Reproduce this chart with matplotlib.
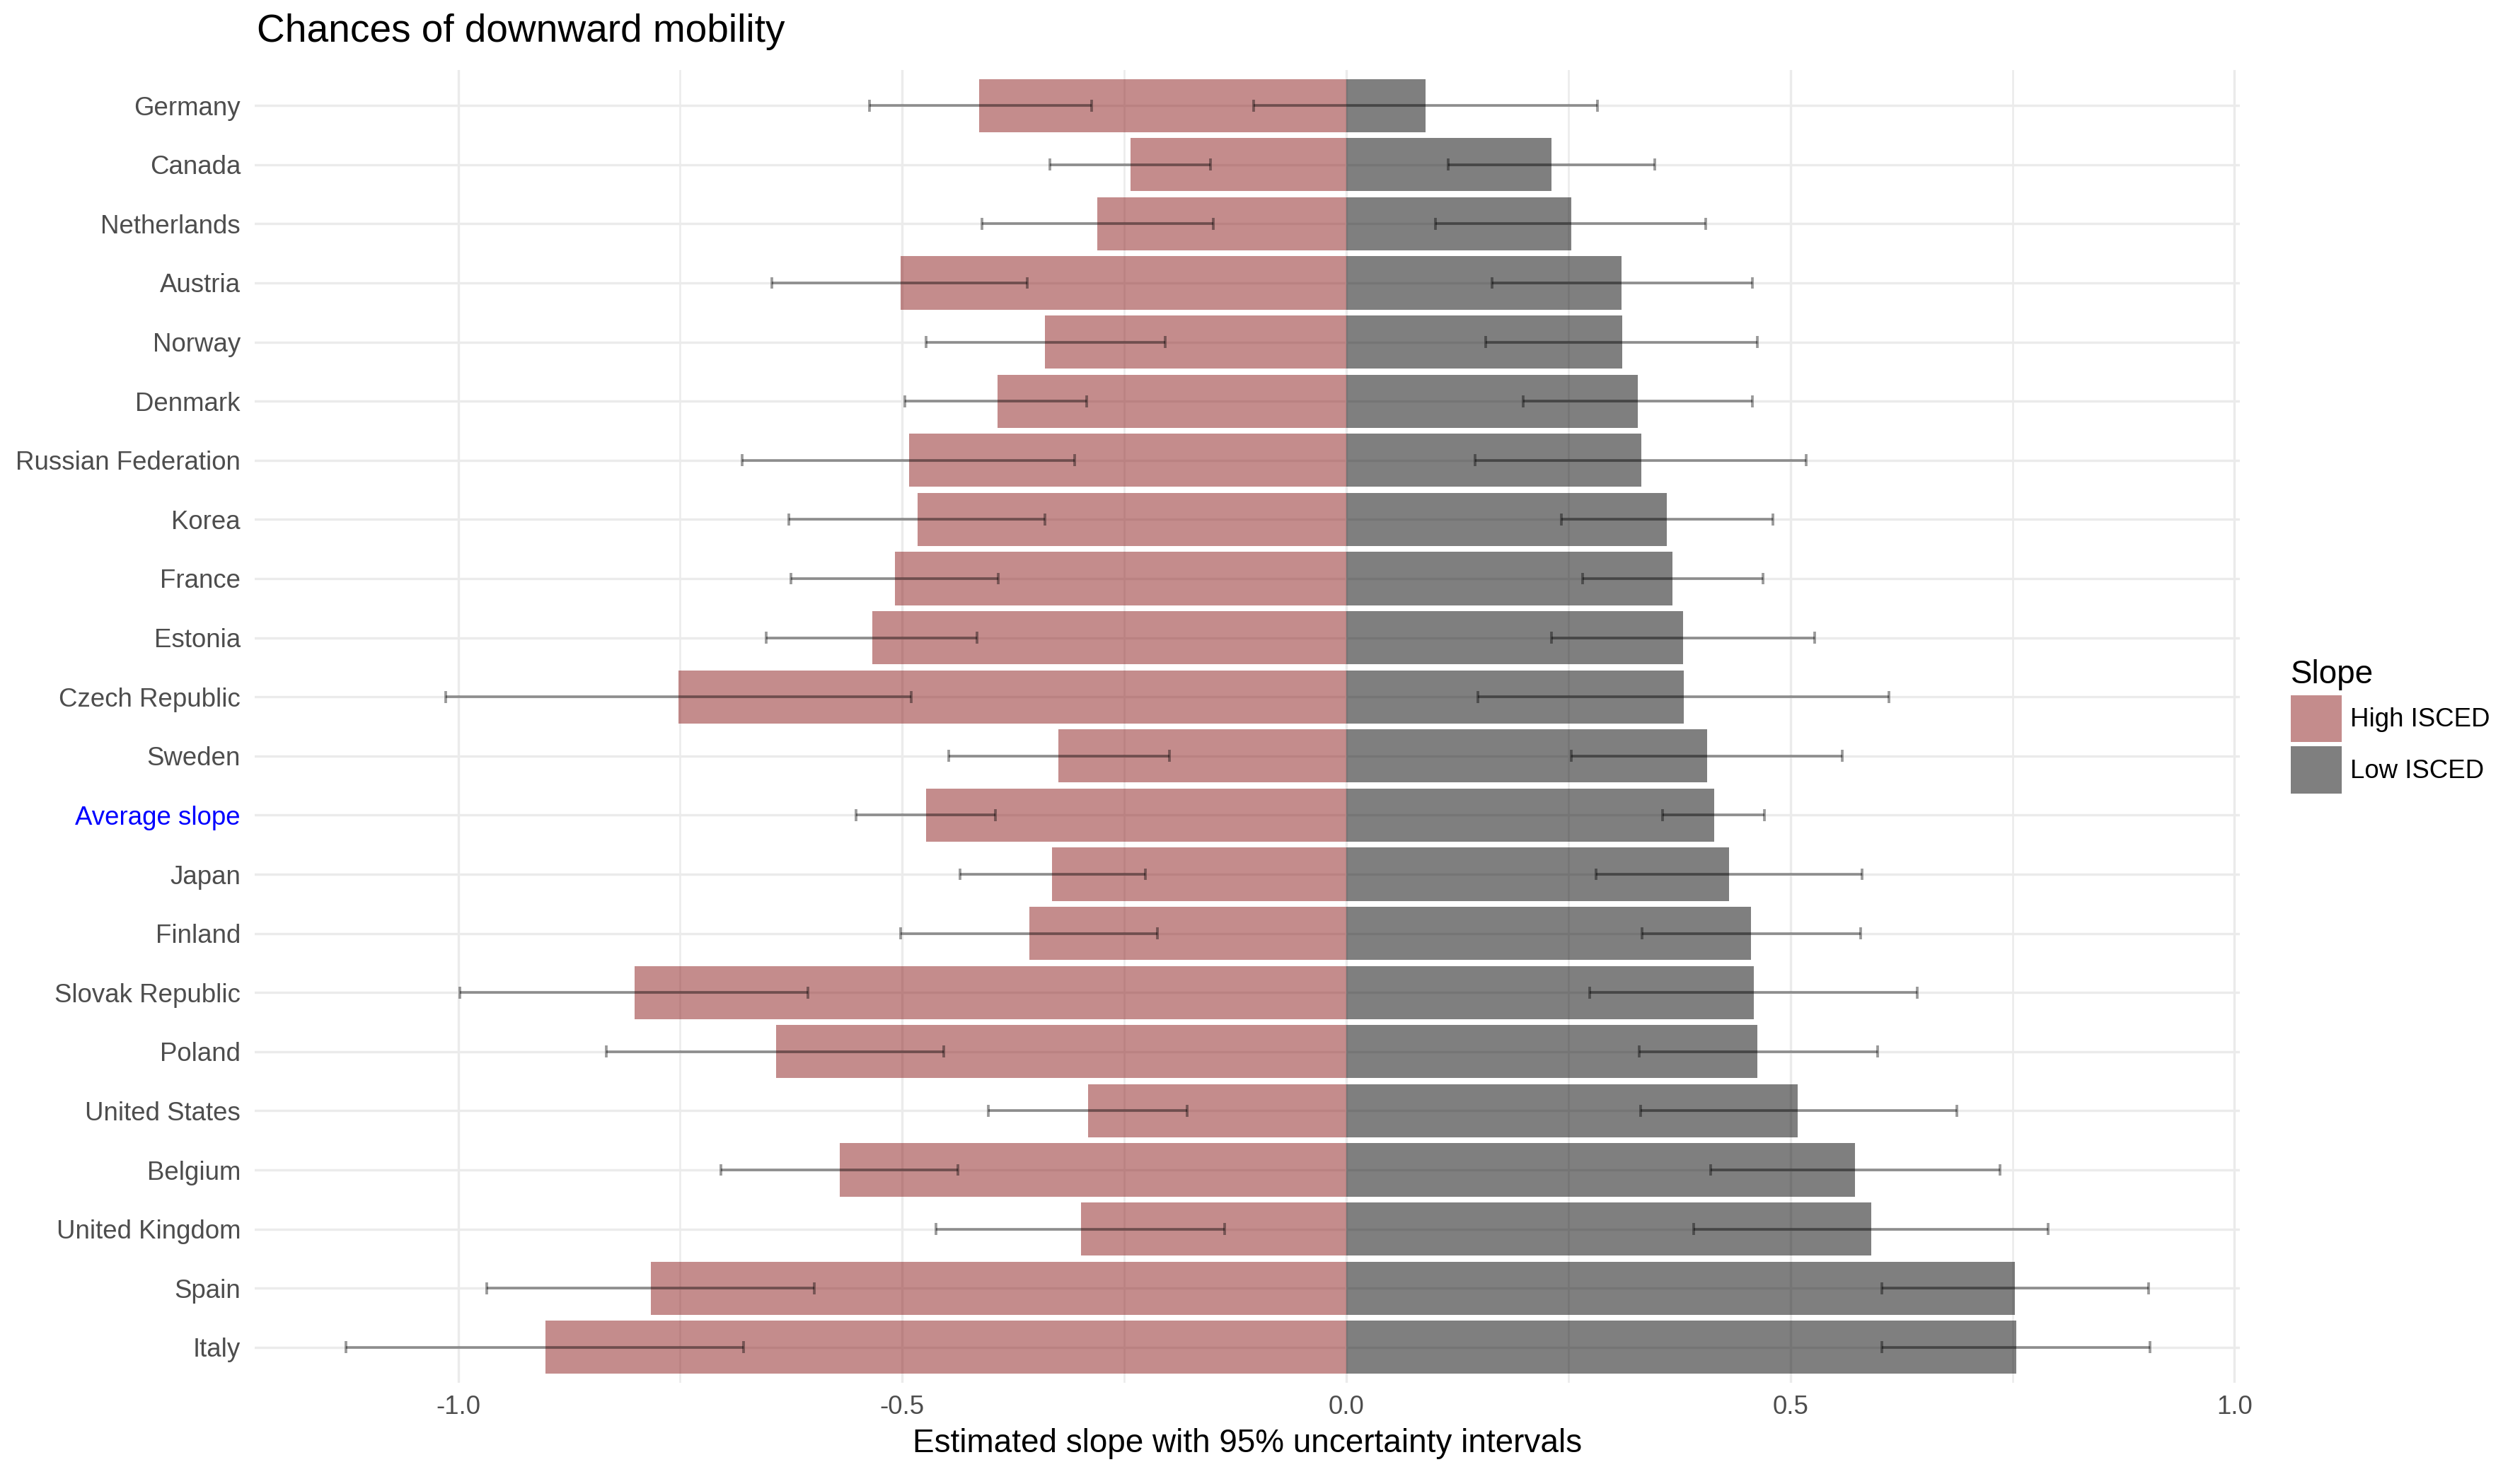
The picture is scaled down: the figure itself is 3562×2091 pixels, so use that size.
import numpy as np
import matplotlib
matplotlib.use("Agg")
import matplotlib.pyplot as plt
from matplotlib.patches import Patch

plt.rcParams['font.family'] = ['Liberation Sans', 'DejaVu Sans']

countries = ["Germany", "Canada", "Netherlands", "Austria", "Norway", "Denmark",
             "Russian Federation", "Korea", "France", "Estonia", "Czech Republic",
             "Sweden", "Average slope", "Japan", "Finland", "Slovak Republic",
             "Poland", "United States", "Belgium", "United Kingdom", "Spain", "Italy"]

# High ISCED slope (negative) and its interval
high = [-0.413, -0.243, -0.280, -0.502, -0.339, -0.393, -0.492, -0.483, -0.508, -0.534,
        -0.752, -0.324, -0.473, -0.331, -0.357, -0.801, -0.642, -0.291, -0.570, -0.299,
        -0.783, -0.902]
high_lo = [-0.537, -0.334, -0.410, -0.647, -0.473, -0.497, -0.680, -0.628, -0.625, -0.653,
           -1.014, -0.448, -0.552, -0.435, -0.502, -0.998, -0.833, -0.403, -0.704, -0.462,
           -0.968, -1.126]
high_hi = [-0.287, -0.153, -0.150, -0.359, -0.204, -0.292, -0.306, -0.339, -0.392, -0.416,
           -0.490, -0.199, -0.395, -0.226, -0.213, -0.606, -0.453, -0.179, -0.437, -0.137,
           -0.599, -0.679]

# Low ISCED slope (positive) and its interval
low = [0.089, 0.231, 0.253, 0.310, 0.311, 0.328, 0.332, 0.361, 0.367, 0.379,
       0.380, 0.406, 0.414, 0.431, 0.456, 0.459, 0.463, 0.508, 0.573, 0.591,
       0.753, 0.754]
low_lo = [-0.104, 0.115, 0.100, 0.164, 0.157, 0.199, 0.145, 0.242, 0.266, 0.231,
          0.148, 0.253, 0.356, 0.281, 0.333, 0.274, 0.330, 0.331, 0.410, 0.391,
          0.603, 0.603]
low_hi = [0.283, 0.347, 0.405, 0.457, 0.463, 0.457, 0.518, 0.480, 0.469, 0.527,
          0.611, 0.558, 0.471, 0.581, 0.579, 0.643, 0.598, 0.687, 0.736, 0.790,
          0.903, 0.905]

ticks = [-1.0, -0.5, 0.0, 0.5, 1.0]
tick_labels = ["-1.0", "-0.5", "0.0", "0.5", "1.0"]

W, H = 3562, 2091
fig = plt.figure(figsize=(W / 300, H / 300), dpi=300)
ax = fig.add_axes([360 / W, 1 - 1955 / H, (3166 - 360) / W, (1955 - 99) / H])

y = np.arange(len(countries))
pink = "#8B1A1A"

ax.barh(y, high, height=0.9, color=pink, alpha=0.5, linewidth=0)
ax.barh(y, low, height=0.9, color="black", alpha=0.5, linewidth=0)

for lo, hi in [(high_lo, high_hi), (low_lo, low_hi)]:
    ax.hlines(y, lo, hi, color="black", alpha=0.4, linewidth=0.9)
    ax.vlines(lo, y - 0.1, y + 0.1, color="black", alpha=0.4, linewidth=0.9)
    ax.vlines(hi, y - 0.1, y + 0.1, color="black", alpha=0.4, linewidth=0.9)

ax.set_xlim(-1.229, 1.006)
ax.set_ylim(len(countries) - 1 + 0.6, -0.6)
ax.set_xticks(ticks)
ax.set_xticklabels(tick_labels)
ax.set_xticks([-0.75, -0.25, 0.25, 0.75], minor=True)
ax.set_yticks(y)
ax.set_yticklabels(countries)

ax.set_axisbelow(True)
ax.grid(True, which="major", color="#EBEBEB", linewidth=0.8)
ax.grid(True, which="minor", axis="x", color="#EBEBEB", linewidth=0.6)
for s in ax.spines.values():
    s.set_visible(False)
ax.tick_params(which="both", length=0)
ax.tick_params(axis="x", labelsize=8.8, labelcolor="#4D4D4D", pad=4)
ax.tick_params(axis="y", labelsize=8.8, labelcolor="#4D4D4D", pad=4.8)
for lab in ax.get_yticklabels():
    if lab.get_text() == "Average slope":
        lab.set_color("blue")

ax.set_xlabel("Estimated slope with 95% uncertainty intervals", fontsize=11, labelpad=3)
fig.text(363 / W, 1 - 45 / H, "Chances of downward mobility", fontsize=13.2,
         ha="left", va="center")

handles = [Patch(facecolor=pink, alpha=0.5, linewidth=0, label="High ISCED"),
           Patch(facecolor="black", alpha=0.5, linewidth=0, label="Low ISCED")]
leg = ax.legend(handles=handles, title="Slope", loc="upper left",
                bbox_to_anchor=(3238 / W, 1 - 932 / H), bbox_transform=fig.transFigure,
                frameon=False, fontsize=8.8, title_fontsize=11, alignment="left",
                handlelength=1.95, handleheight=2.4, labelspacing=0.18,
                handletextpad=0.33, borderpad=0, borderaxespad=0)

fig.savefig("out.png", dpi=300)
